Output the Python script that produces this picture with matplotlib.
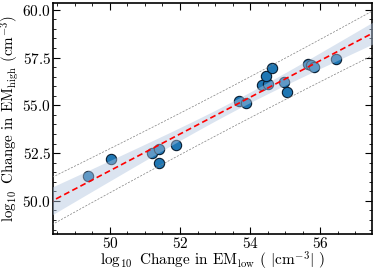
import matplotlib
matplotlib.use("Agg")
import matplotlib.pyplot as plt
import numpy as np
from matplotlib.ticker import MultipleLocator

plt.rcParams['font.family'] = 'serif'
plt.rcParams['font.serif'] = ['cmr10']
plt.rcParams['mathtext.fontset'] = 'cm'
plt.rcParams['axes.formatter.use_mathtext'] = True

# log10 change in EM (low band vs high band)
em_low = [49.38, 50.03, 51.20, 51.40, 51.40, 51.88, 53.67, 53.87, 54.33,
          54.50, 54.44, 54.61, 54.98, 55.04, 55.66, 55.75, 55.83, 56.46]
em_high = [51.31, 52.20, 52.50, 52.70, 51.99, 52.93, 55.24, 55.13, 56.07,
           56.10, 56.54, 56.96, 56.23, 55.70, 57.17, 57.10, 57.00, 57.43]

x = np.array(em_low)
y = np.array(em_high)

fig, ax = plt.subplots(figsize=(3.74, 2.72), dpi=100)

# linear fit with confidence band and prediction lines
slope, icpt = np.polyfit(x, y, 1)
n = len(x)
resid = y - (slope*x + icpt)
s = np.sqrt(np.sum(resid**2)/(n - 2))
xx = np.linspace(48.0, 58.0, 200)
yy = slope*xx + icpt
sxx = np.sum((x - x.mean())**2)
conf = 2.3*s*np.sqrt(1.0/n + (xx - x.mean())**2/sxx)
pred = 2.1*s*np.sqrt(1 + 1.0/n + (xx - x.mean())**2/sxx)

ax.scatter(x, y, s=55, color='#1f77b4', edgecolor='#081c30', linewidth=0.8, zorder=2)
ax.fill_between(xx, yy - conf, yy + conf, color='lightsteelblue', alpha=0.45,
                linewidth=0, zorder=3)
ax.plot(xx, yy, color='red', ls='--', lw=1.2, dashes=(3.5, 2), zorder=4)
ax.plot(xx, yy + pred, color='gray', ls='--', lw=0.5, dashes=(3, 2), zorder=4)
ax.plot(xx, yy - pred, color='gray', ls='--', lw=0.5, dashes=(3, 2), zorder=4)

ax.set_xlim(48.38, 57.48)
ax.set_ylim(48.27, 60.37)
ax.xaxis.set_major_locator(MultipleLocator(2))
ax.xaxis.set_minor_locator(MultipleLocator(0.5))
ax.yaxis.set_major_locator(MultipleLocator(2.5))
ax.yaxis.set_minor_locator(MultipleLocator(0.5))
ax.tick_params(which='both', direction='in', top=True, right=True, labelsize=11, pad=1.5)
ax.tick_params(which='major', length=5, width=0.8)
ax.tick_params(which='minor', length=2.5, width=0.6)
for sp in ax.spines.values():
    sp.set_linewidth(1.2)

ax.set_xlabel(r'$\log_{10}$ Change in EM$_{\rm low}$ ( $|$cm$^{-3}|$ )', fontsize=11, labelpad=-1)
ax.set_ylabel(r'$\log_{10}$ Change in EM$_{\rm high}$ (cm$^{-3}$)', fontsize=10.8, labelpad=1)

fig.subplots_adjust(left=0.142, right=0.995, top=0.99, bottom=0.14)
fig.savefig('out.png', dpi=100)
